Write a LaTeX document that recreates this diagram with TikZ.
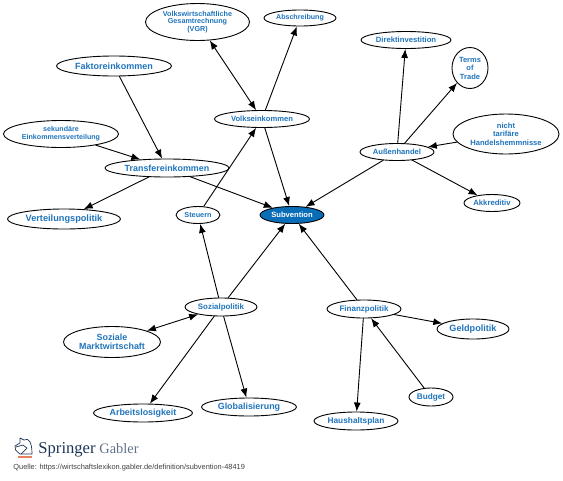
\documentclass[tikz,border=0pt]{standalone}
\usepackage{fontspec}
\setmainfont{Liberation Sans}
\newfontfamily\logofont{Liberation Serif}
\usetikzlibrary{shapes.geometric,arrows.meta}
\definecolor{termblue}{HTML}{1F74BC}
\definecolor{subfill}{HTML}{0A6DB8}
\definecolor{logonavy}{HTML}{1D3557}
\definecolor{logoorange}{HTML}{E8825A}

\begin{document}
\begin{tikzpicture}[x=1pt, y=-1pt, line width=0.9pt, line cap=round, line join=round,
    term/.style 2 args={ellipse, draw, fill=white, inner sep=0pt, align=center, text=termblue,
      minimum width=#1pt, minimum height=#2pt},
    txt/.style 2 args={font=\fontsize{#1}{#2}\selectfont\bfseries},
    link/.style={-{Latex[length=9pt,width=7pt]}},
    twoway/.style={{Latex[length=9pt,width=7pt]}-{Latex[length=9pt,width=7pt]}}]

  %% ==== nodes ====
  \node[term={104}{37},txt={7.2}{7.6}] (vgr) at (197.5,22) {Volkswirtschaftliche\\Gesamtrechnung\\(VGR)};
  \node[term={72}{16},txt={7.1}{8}] (abschreibung) at (300,18) {Abschreibung};
  \node[term={115}{20},txt={9}{11}] (faktor) at (114,66) {Faktoreinkommen};
  \node[term={95}{17},txt={7.6}{9}] (volk) at (262,119) {Volkseinkommen};
  \node[term={115}{27},txt={7.1}{7.7}] (sekundaer) at (61,134) {sekundäre\\Einkommensverteilung};
  \node[term={124}{18},txt={8.9}{11}] (transfer) at (167,168) {Transfereinkommen};
  \node[term={113}{20},txt={9.2}{11}] (verteilung) at (64,219) {Verteilungspolitik};
  \node[term={44}{17},txt={7.3}{9}] (steuern) at (198,215) {Steuern};
  \node[term={64}{17},txt={7.6}{9},fill=subfill,text=white] (subvention) at (292,215) {Subvention};
  \node[term={90}{17},txt={7.7}{9}] (direkt) at (406,40) {Direktinvestition};
  \node[term={36}{41},txt={7.5}{8.5}] (terms) at (470,68) {Terms\\of\\Trade};
  \node[term={106}{40},txt={7.6}{8.3}] (tarif) at (506,134) {nicht\\tarifäre\\Handelshemmnisse};
  \node[term={74}{17},txt={7.6}{9}] (aussen) at (397,152) {Außenhandel};
  \node[term={56}{17},txt={7.7}{9}] (akkreditiv) at (492,203) {Akkreditiv};
  \node[term={72}{18},txt={7.9}{9}] (sozial) at (221,307) {Sozialpolitik};
  \node[term={97}{31},txt={8.9}{9}] (markt) at (112,342) {Soziale\\Marktwirtschaft};
  \node[term={99}{18},txt={8.9}{10}] (arbeit) at (143,413) {Arbeitslosigkeit};
  \node[term={95}{18},txt={8.9}{10}] (global) at (249,407) {Globalisierung};
  \node[term={74}{18},txt={8}{9}] (finanz) at (364,309) {Finanzpolitik};
  \node[term={72}{20},txt={9.1}{11}] (geld) at (473,329) {Geldpolitik};
  \node[term={44}{18},txt={8.2}{9}] (budget) at (431,397) {Budget};
  \node[term={84}{18},txt={8.3}{9}] (haushalt) at (356,421) {Haushaltsplan};

  %% ==== connectors ====
  \draw[twoway] (volk) -- (vgr);
  \draw[link] (volk) -- (abschreibung);
  \draw[link] (volk) -- (subvention);
  \draw[link] (faktor) -- (transfer);
  \draw[link] (sekundaer) -- (transfer);
  \draw[link] (transfer) -- (verteilung);
  \draw[link] (transfer) -- (subvention);
  \draw[link] (steuern) -- (volk);
  \draw[link] (sozial) -- (steuern);
  \draw[link] (sozial) -- (subvention);
  \draw[twoway] (sozial) -- (markt);
  \draw[link] (sozial) -- (arbeit);
  \draw[link] (sozial) -- (global);
  \draw[link] (finanz) -- (subvention);
  \draw[link] (finanz) -- (geld);
  \draw[link] (budget) -- (finanz);
  \draw[link] (finanz) -- (haushalt);
  \draw[link] (aussen) -- (subvention);
  \draw[link] (aussen) -- (direkt);
  \draw[link] (aussen) -- (terms);
  \draw[link] (tarif) -- (aussen);
  \draw[link] (aussen) -- (akkreditiv);

  %% ==== logo and source line ====
  \draw[logonavy, line width=0.7pt] (20,454) .. controls (16,451) and (14,449) .. (15,446) -- (20,443)
    -- (20,438) -- (24,440) .. controls (29,437) and (32,443) .. (32,454) -- cycle;
  \draw[logonavy, line width=0.7pt] (16,447) -- (23,445) -- (27,448) -- (21,454);
  \fill[logoorange] (18,456) rectangle (32,457.5);
  \node[anchor=base west,inner sep=0pt,text=logonavy,font=\logofont\fontsize{16.6}{20}\selectfont] (springer) at (38,453) {Springer};
  \node[anchor=base west,inner sep=0pt,text=logonavy!70,font=\logofont\fontsize{14.4}{18}\selectfont] (gabler) at (99,453) {Gabler};
  \node[anchor=base west,inner sep=0pt,text=black!75,font=\fontsize{7.4}{8}\selectfont] (quelle) at (13,469) {Quelle: https://wirtschaftslexikon.gabler.de/definition/subvention-48419};

  \pgfresetboundingbox
  \path[use as bounding box] (0,0) rectangle (563,480);
\end{tikzpicture}
\end{document}
